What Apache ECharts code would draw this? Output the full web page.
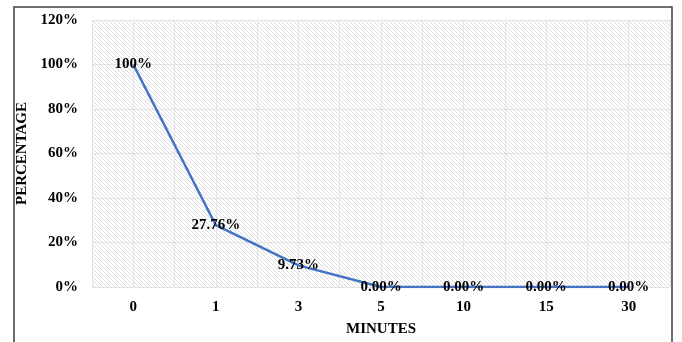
<!DOCTYPE html>
<html>
<head>
<meta charset="utf-8">
<script src="https://cdn.jsdelivr.net/npm/echarts@6/dist/echarts.min.js"></script>
<style>
  html, body { margin: 0; padding: 0; background: #fff; overflow: hidden; }
  #chart { width: 682px; height: 342px; }
</style>
</head>
<body>
<div id="chart"></div>
<script>
// Minutes of exposure and the remaining percentage
const minutes = ['0', '1', '3', '5', '10', '15', '30'];
const remaining = [100, 27.76, 9.73, 0, 0, 0, 0];
const valueLabels = ['100%', '27.76%', '9.73%', '0.00%', '0.00%', '0.00%', '0.00%'];

// Diagonal hatch used as the plot background
function hatchPattern() {
  const c = document.createElement('canvas');
  c.width = 4; c.height = 4;
  const g = c.getContext('2d');
  g.fillStyle = '#ffffff';
  g.fillRect(0, 0, 4, 4);
  g.strokeStyle = '#dcdcdc';
  g.lineWidth = 1;
  g.beginPath();
  g.moveTo(-1, -1); g.lineTo(5, 5);
  g.moveTo(-1, 3); g.lineTo(1, 5);
  g.moveTo(3, -1); g.lineTo(5, 1);
  g.stroke();
  return { image: c, repeat: 'repeat' };
}

const font = '"Liberation Serif", "Times New Roman", serif';
const chart = echarts.init(document.getElementById('chart'), null, { width: 682, height: 342 });
chart.setOption({
  animation: false,
  graphic: [{
    type: 'rect',
    shape: { x: 14, y: 7, width: 658, height: 360 },
    style: { fill: 'none', stroke: '#404040', lineWidth: 1.5 },
    z: 10
  }],
  grid: {
    left: 92, top: 20, right: 12, bottom: 49,
    show: true,
    backgroundColor: hatchPattern(),
    borderWidth: 0
  },
  xAxis: [{
    type: 'category',
    data: minutes,
    boundaryGap: true,
    axisLine: { show: false },
    axisTick: { show: false },
    splitLine: { show: false },
    axisLabel: { fontFamily: font, fontWeight: 'bold', fontSize: 15, color: '#000', margin: 13 },
    name: 'MINUTES',
    nameLocation: 'middle',
    nameGap: 35,
    nameTextStyle: { fontFamily: font, fontWeight: 'bold', fontSize: 15, color: '#000' }
  }, {
    // half-category grid lines
    type: 'value',
    position: 'bottom',
    min: 0, max: 14, interval: 1,
    axisLine: { show: false },
    axisTick: { show: false },
    axisLabel: { show: false },
    splitLine: { show: true, lineStyle: { color: '#e3e3e3', width: 1 } }
  }],
  yAxis: {
    type: 'value',
    min: 0, max: 120, interval: 20,
    axisLine: { show: false },
    axisTick: { show: false },
    splitLine: { show: true, lineStyle: { color: '#e3e3e3', width: 1 } },
    axisLabel: { formatter: '{value}%', fontFamily: font, fontWeight: 'bold', fontSize: 15, color: '#000', margin: 14 },
    name: 'PERCENTAGE',
    nameLocation: 'middle',
    nameGap: 58,
    nameRotate: 90,
    nameTextStyle: { fontFamily: font, fontWeight: 'bold', fontSize: 15, color: '#000' }
  },
  series: [{
    type: 'line',
    xAxisIndex: 0,
    data: remaining,
    symbol: 'circle',
    symbolSize: 2,
    showSymbol: true,
    itemStyle: { color: 'rgba(68,114,196,0)', borderWidth: 0 },
    lineStyle: { color: '#4472C4', width: 2.5 },
    label: {
      show: true,
      position: 'inside',
      formatter: p => valueLabels[p.dataIndex],
      fontFamily: font, fontWeight: 'bold', fontSize: 15, color: '#000'
    },
    labelLayout: { hideOverlap: false },
    z: 5
  }]
});
</script>
</body>
</html>
